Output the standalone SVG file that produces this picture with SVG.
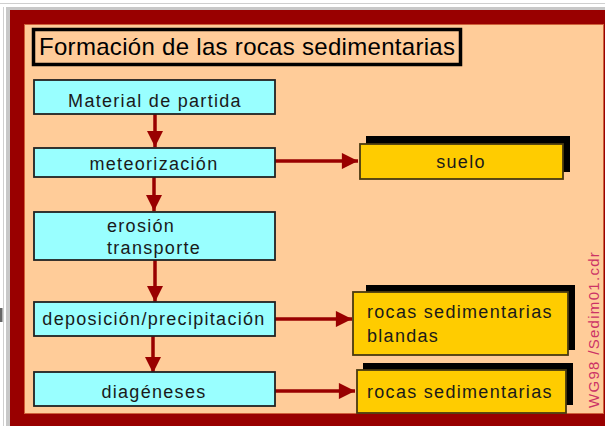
<svg xmlns="http://www.w3.org/2000/svg" width="605" height="426" viewBox="0 0 605 426">
<defs>
<style>
.t{font-family:"Liberation Sans",Arial,sans-serif;font-size:18px;fill:#1a1a1a;letter-spacing:1.3px}
.c{fill:#99FFFF;stroke:#222;stroke-width:1.8}
.y{fill:#FFCC00;stroke:#4a3a10;stroke-width:1.8}
.sh{fill:#000}
.ln{stroke:#990000;stroke-width:3.5;fill:none}
</style>
<marker id="ah" viewBox="0 0 10 10" refX="10" refY="5" markerWidth="5.2" markerHeight="4.6" markerUnits="strokeWidth" orient="auto">
<path d="M0,0 L10,5 L0,10 Z" fill="#990000"/>
</marker>
</defs>
<rect x="0" y="0" width="605" height="426" fill="#fff"/>
<line x1="0" y1="3.5" x2="605" y2="3.5" stroke="#cfcfcf" stroke-width="1"/>
<rect x="6" y="7" width="599" height="3" fill="#c8c8c8"/>
<line x1="3.5" y1="7" x2="3.5" y2="426" stroke="#cfcfcf" stroke-width="1"/>
<rect x="6" y="7" width="4" height="419" fill="#c8c8c8"/>
<rect x="0" y="308" width="2.5" height="14" fill="#666"/>
<rect x="10" y="10" width="595" height="416" fill="#990000"/>
<rect x="24.5" y="24.5" width="579" height="389" fill="#FFCC99" stroke="#d0603a" stroke-width="1"/>

<g id="title">
<rect x="33.5" y="29.5" width="427" height="35" fill="#FFCC99" stroke="#000" stroke-width="3.5"/>
<text x="39" y="55" class="t" style="font-size:24px;letter-spacing:0.3px;fill:#000">Formación de las rocas sedimentarias</text>
</g>

<g id="connectors">
<line class="ln" x1="155" y1="114" x2="155" y2="147" marker-end="url(#ah)"/>
<line class="ln" x1="154" y1="177" x2="154" y2="211" marker-end="url(#ah)"/>
<line class="ln" x1="155" y1="260" x2="155" y2="302" marker-end="url(#ah)"/>
<line class="ln" x1="153" y1="336" x2="153" y2="373" marker-end="url(#ah)"/>
<line class="ln" x1="275" y1="161" x2="358" y2="161" marker-end="url(#ah)"/>
<line class="ln" x1="275" y1="319" x2="352" y2="319" marker-end="url(#ah)"/>
<line class="ln" x1="275" y1="391" x2="355" y2="391" marker-end="url(#ah)"/>
</g>

<g id="material">
<rect class="c" x="34" y="80" width="241" height="34"/>
<text class="t" x="155" y="107" text-anchor="middle">Material de partida</text>
</g>
<g id="meteorizacion">
<rect class="c" x="34" y="148" width="241" height="29"/>
<text class="t" x="154" y="170" text-anchor="middle">meteorización</text>
</g>
<g id="erosion">
<rect class="c" x="34" y="212" width="241" height="48"/>
<text class="t" x="107" y="232">erosión</text>
<text class="t" x="107" y="254">transporte</text>
</g>
<g id="deposicion">
<rect class="c" x="34" y="302" width="241" height="34"/>
<text class="t" x="154" y="325" text-anchor="middle">deposición/precipitación</text>
</g>
<g id="diageneses">
<rect class="c" x="34" y="372" width="241" height="34"/>
<text class="t" x="154" y="398" text-anchor="middle">diagéneses</text>
</g>

<g id="suelo">
<rect class="sh" x="366" y="136" width="204" height="36"/>
<rect class="y" x="360" y="144" width="203" height="35"/>
<text class="t" x="461" y="168" text-anchor="middle">suelo</text>
</g>
<g id="blandas">
<rect class="sh" x="366" y="285" width="209" height="65"/>
<rect class="y" x="353" y="292" width="215" height="63"/>
<text class="t" x="367" y="318">rocas sedimentarias</text>
<text class="t" x="367" y="342">blandas</text>
</g>
<g id="rocas">
<rect class="sh" x="363" y="363" width="210" height="42"/>
<rect class="y" x="357" y="370" width="209" height="43"/>
<text class="t" x="367" y="398">rocas sedimentarias</text>
</g>

<text transform="translate(599,408) rotate(-90)" class="t" style="font-size:15px;fill:#cc3366;letter-spacing:1.3px">WG98 /Sedim01.cdr</text>
</svg>
